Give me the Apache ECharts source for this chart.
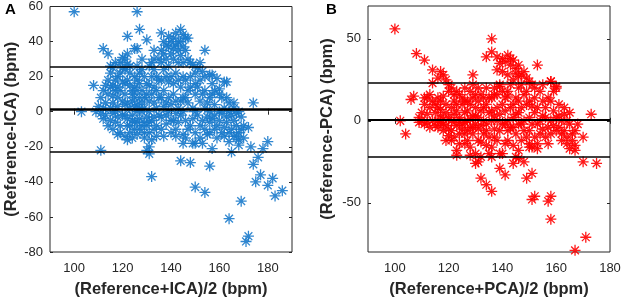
<!DOCTYPE html>
<html>
<head>
<meta charset="utf-8">
<script src="https://cdn.jsdelivr.net/npm/echarts@6/dist/echarts.min.js"></script>
<style>
  html, body { margin: 0; padding: 0; background: #fff; }
  #chart { width: 624px; height: 303px; }
</style>
</head>
<body>
<div id="chart"></div>
<script>
// Panel A: (Reference+ICA)/2 vs Reference-ICA
const icaPoints = [
  [100,57],[126,57],[127,47],[122,43],[130,41],[136,45],[144,47],[145,44],[147,42],[154,35],
  [112,36],[114,33],[126,36],[133,35],[108,15],[103,0],[109,0],[111,-22],[132,-37],[131,-20],
  [131,-24],[130,-22],[144,-28],[148,-29],[156,-31],[150,-43],[154,-46],[164,-61],[169,-51],[171,-74],
  [172,-71],[174,5],[166,5],[172,-9],[174,-30],[175,-40],[176,-26],[177,-36],[173,-20],[180,-17],
  [178,-21],[180,-42],[182,-38],[183,-48],[186,-45],[168,-16],[167,-14],[168,-19],[165,-23],[170,-15],
  [157,-21],[145,-18],[142,-14],[150,-18],[160,13],[163,17],[157,21],[164,0],[168,0],
  [111,8],[112,12],[112,2],[113,-2],[113,5],[114,10],[114,18],[115,22],[115,-5],[112,-4],
  [110,3],[111,-1],[113,15],[114,-8],[115,26],[115,2],
  [116,25],[117,28],[118,20],[116,15],[117,12],[118,8],[116,5],[117,0],[118,-3],[119,-8],
  [116,-10],[118,14],[119,22],[119,28],[120,31],[117,18],[115,14],[116,9],[118,3],[119,-12],
  [117,-6],[120,-2],[120,6],[119,12],[120,17],[120,25],[116,-1],[118,-13],
  [121,30],[122,27],[121,24],[123,22],[122,18],[124,12],[121,10],[122,5],[123,2],[121,-2],
  [124,-5],[122,-8],[123,-12],[124,-15],[125,-10],[121,-14],[125,8],[124,10],[123,15],[125,20],
  [125,36],[124,-2],[125,3],[122,33],[123,26],[121,16],[122,-4],[124,6],[125,14],[121,4],
  [123,-8],[125,-6],[122,-16],
  [126,12],[127,8],[128,5],[126,0],[127,-4],[128,-8],[129,-12],[126,-6],[128,24],[129,20],
  [127,16],[130,10],[129,2],[130,-3],[128,30],[129,-15],[126,18],[127,22],[128,12],[126,26],
  [130,16],[129,-6],[127,-10],[126,4],[128,0],[130,-8],[126,-13],[129,8],[127,2],
  [131,15],[132,10],[133,5],[131,0],[132,-5],[133,-10],[134,-8],[131,-12],[134,2],[135,-2],
  [133,24],[134,20],[135,18],[132,28],[135,30],[131,6],[133,-3],[134,12],[132,20],[131,-6],
  [135,8],[133,14],[132,-16],[134,-14],[131,26],[133,30],
  [136,35],[137,33],[138,30],[139,37],[140,40],[138,20],[139,17],[137,12],[136,8],[138,5],
  [139,0],[140,-5],[136,-10],[137,-14],[138,-7],[140,-12],[137,24],[136,-3],[138,38],[137,40],
  [139,43],[140,33],[136,18],[139,8],[137,3],[138,-2],[140,4],[136,28],[139,26],[140,20],
  [141,42],[142,38],[143,35],[144,32],[141,30],[142,22],[143,18],[144,14],[141,10],[142,6],
  [143,2],[144,-2],[141,-5],[142,-10],[145,-13],[146,42],[142,45],[143,40],[145,37],[141,36],
  [144,40],[145,28],[143,28],[141,16],[144,6],[145,0],[142,-1],[143,-6],[145,8],[145,20],
  [146,35],[147,30],[148,28],[149,27],[151,25],[153,23],[146,18],[148,14],[150,10],[152,6],
  [147,5],[149,2],[151,-2],[153,-5],[146,-5],[148,-8],[150,-12],[152,-15],[154,-10],[155,-3],
  [155,5],[154,12],[152,18],[150,22],[148,20],[146,-15],[153,-18],[149,-18],[147,-10],[150,0],
  [152,-8],[154,2],[151,14],[153,10],[149,-4],[147,12],[150,16],[155,-13],[146,8],[152,28],[154,20],
  [156,8],[158,4],[160,0],[157,-4],[159,-8],[161,-12],[163,-6],[162,2],[164,5],[158,12],
  [157,16],[161,8],[163,-3],[165,-10],[162,-14],[165,-2],[156,-12],[159,-15],[164,-17],[156,21],
  [159,19],[162,17],[156,0],[158,-2],[160,10],[160,-5],[162,-9],[157,10],[161,-1],[163,8],
  [156,-6],[164,-12],[158,-10],
  [166,-5],[167,-8],[168,-12],[170,-8],[169,-3],[166,2],[166,-14],[167,-1],[169,-10]
];
const icaLimits = [25.5, 1.2, -23]; // upper LoA, mean, lower LoA

// Panel B: (Reference+PCA)/2 vs Reference-PCA
const pcaPoints = [
  [100,56],[102,0],[104,-8],[108,41],[111,37],[114,31],[118,28],[119,25],[114,23],[106,13],
  [107,15],[111,14],[129,28],[136,50],[136,42],[134,39],[138,39],[142,40],[144,37],[146,34],
  [148,30],[138,31],[153,34],[158,24],[160,21],[173,4],[170,-10],[167,-15],[170,-25],[175,-26],
  [167,-18],[171,-71],[167,-79],[158,-60],[157,-49],[158,-46],[152,-46],[151,-48],[151,-32],[149,-35],
  [132,-35],[134,-39],[136,-43],[139,-29],[141,-33],[139,-20],[144,-26],[146,-23],[153,-17],[150,-16],
  [130,-26],[128,-21],[123,-21],[119,-12],[137,16],[139,21],[142,15],[146,20],
  [140,38],[141,36],[143,34],[145,32],[147,28],[149,26],[150,24],[151,22],[152,20],[140,30],
  [142,28],[144,25],[139,35],[143,38],[145,29],[146,27],[120,22],[116,26],[117,30],
  [109,2],[110,0],[111,-2],[112,4],[113,8],[111,10],[112,14],[113,-4],[114,0],[115,5],
  [114,12],[110,5],[112,-1],[115,-3],[113,16],[115,10],[109,-1],
  [116,0],[117,3],[118,-2],[116,8],[117,12],[119,5],[118,-6],[120,-5],[116,-4],[118,15],
  [120,2],[117,-1],[119,10],[116,14],[120,-9],[118,1],[119,-3],[117,7],[120,18],
  [121,0],[122,4],[123,-3],[121,8],[122,12],[124,16],[123,18],[125,10],[121,-6],[122,-10],
  [124,-14],[123,-18],[125,-5],[124,2],[121,20],[125,-2],[122,-1],[123,6],[124,-8],[125,14],
  [121,-12],[122,16],[124,-1],[123,10],
  [126,5],[127,0],[128,-4],[126,-8],[127,12],[128,18],[129,14],[130,8],[126,20],[127,-12],
  [128,-16],[129,-8],[130,-2],[129,3],[130,-20],[126,-1],[127,6],[128,10],[129,22],[130,16],
  [126,-14],[128,1],[129,-4],[127,-6],[130,3],[126,12],
  [131,2],[132,-3],[133,8],[131,12],[132,16],[134,20],[133,-8],[131,-12],[134,-15],[135,-20],
  [132,-22],[135,5],[134,-2],[131,-25],[132,6],[133,0],[134,10],[135,-10],[131,-5],[133,14],
  [132,-13],[135,14],[134,-6],[131,20],
  [136,0],[137,-5],[138,8],[136,14],[137,20],[139,22],[138,-12],[136,-16],[139,4],[140,-2],
  [140,-20],[136,6],[137,-10],[138,0],[139,-6],[140,10],[138,16],[136,-22],[137,3],[140,18],
  [141,6],[142,0],[143,-4],[144,2],[141,14],[142,18],[143,22],[144,10],[145,-8],[142,-12],
  [144,-15],[145,-22],[141,-2],[143,8],[145,4],[142,-6],[144,-4],[145,14],[141,-14],
  [146,5],[147,-2],[148,-6],[146,12],[148,16],[147,22],[149,10],[150,2],[149,-10],[150,-14],
  [146,-18],[148,-25],[146,-2],[147,8],[148,0],[150,-6],[149,18],[147,-12],[150,12],
  [151,-2],[152,5],[153,8],[154,0],[155,-5],[156,2],[152,-10],[153,-14],[151,-16],[155,12],
  [154,18],[156,-10],[157,-4],[158,0],[159,6],[160,2],[158,-8],[157,14],[159,18],[158,24],
  [160,20],[155,22],[152,14],[153,-2],[154,-8],[156,8],[157,-14],[159,-3],[160,-6],[151,9],
  [155,3],[158,12],
  [161,-4],[162,-8],[163,8],[164,0],[165,5],[162,-12],[164,-14],[166,-8],[165,-2],[168,-2],
  [161,3],[163,-6],[161,10],[164,-10],[166,-12],[162,0],[163,4],[165,-17],[167,-6]
];
const pcaLimits = [23.3, 0.6, -21.8];

const xTicks = [100, 120, 140, 160, 180];
const icaYTicks = [-80, -60, -40, -20, 0, 20, 40, 60];
const pcaYTicks = [-50, 0, 50];

const chart = echarts.init(document.getElementById('chart'));

// matlab-style asterisk marker
const asterisk = 'path://M5 0L5 10M0 5L10 5M1.46 1.46L8.54 8.54M8.54 1.46L1.46 8.54';
const font = 'Liberation Sans, Arial, Helvetica, sans-serif';
const axisGrey = '#262626';

function xAxisOf(grid, min, max, name, mirror) {
  return {
    type: 'value', gridIndex: grid, min: min, max: max,
    position: mirror ? 'top' : 'bottom',
    name: mirror ? '' : name, nameLocation: 'middle', nameGap: 29,
    nameTextStyle: { fontFamily: font, fontSize: 16.5, fontWeight: 'bold', color: axisGrey },
    axisLine: { show: false },
    axisTick: { show: true, inside: true, length: 3, customValues: xTicks,
      lineStyle: { color: axisGrey } },
    axisLabel: { show: !mirror, customValues: xTicks, margin: 10,
      fontFamily: font, fontSize: 13, color: axisGrey },
    splitLine: { show: false }
  };
}

function yAxisOf(grid, min, max, ticks, name, gap, mirror) {
  return {
    type: 'value', gridIndex: grid, min: min, max: max,
    position: mirror ? 'right' : 'left',
    name: mirror ? '' : name, nameLocation: 'middle', nameGap: gap,
    nameTextStyle: { fontFamily: font, fontSize: 16.5, fontWeight: 'bold', color: axisGrey },
    axisLine: { show: false },
    axisTick: { show: true, inside: true, length: 3, customValues: ticks,
      lineStyle: { color: axisGrey } },
    axisLabel: { show: !mirror, customValues: ticks, margin: 7,
      fontFamily: font, fontSize: 13, color: axisGrey },
    splitLine: { show: false }
  };
}

function limitLines(limits, meanWidth) {
  return {
    symbol: 'none', silent: true, animation: false,
    label: { show: false },
    lineStyle: { color: '#000', type: 'solid', width: 1.6 },
    data: limits.map((v, i) => ({
      yAxis: v,
      lineStyle: { color: '#000', type: 'solid', width: i === 1 ? meanWidth : 1.6 }
    }))
  };
}

const option = {
  animation: false,
  grid: [
    { left: 50, top: 6, width: 242, height: 248, show: true,
      borderColor: axisGrey, borderWidth: 1, backgroundColor: '#fff' },
    { left: 368, top: 6, width: 242, height: 247, show: true,
      borderColor: axisGrey, borderWidth: 1, backgroundColor: '#fff' }
  ],
  xAxis: [
    xAxisOf(0, 90, 190, '(Reference+ICA)/2 (bpm)', false),
    xAxisOf(0, 90, 190, '', true),
    xAxisOf(1, 90, 180, '(Reference+PCA)/2 (bpm)', false),
    xAxisOf(1, 90, 180, '', true)
  ],
  yAxis: [
    yAxisOf(0, -80, 60, icaYTicks, '(Reference-ICA) (bpm)', 29, false),
    yAxisOf(0, -80, 60, icaYTicks, '', 0, true),
    yAxisOf(1, -80, 70, pcaYTicks, '(Reference-PCA) (bpm)', 32, false),
    yAxisOf(1, -80, 70, pcaYTicks, '', 0, true)
  ],
  graphic: [
    { type: 'text', left: 5, top: 2,
      style: { text: 'A', font: 'bold 15px ' + font, fill: '#000' } },
    { type: 'text', left: 326, top: 2,
      style: { text: 'B', font: 'bold 15px ' + font, fill: '#000' } }
  ],
  series: [
    {
      type: 'scatter', xAxisIndex: 0, yAxisIndex: 0,
      symbol: asterisk, symbolSize: 11, silent: true,
      itemStyle: { color: '#1a7acb', borderColor: '#1a7acb', borderWidth: 1.3, opacity: 0.9 },
      data: icaPoints,
      markLine: limitLines(icaLimits, 2.6)
    },
    {
      type: 'scatter', xAxisIndex: 2, yAxisIndex: 2,
      symbol: asterisk, symbolSize: 11, silent: true,
      itemStyle: { color: '#ff0000', borderColor: '#ff0000', borderWidth: 1.3, opacity: 0.9 },
      data: pcaPoints,
      markLine: limitLines(pcaLimits, 2)
    }
  ]
};

chart.setOption(option);
</script>
</body>
</html>
